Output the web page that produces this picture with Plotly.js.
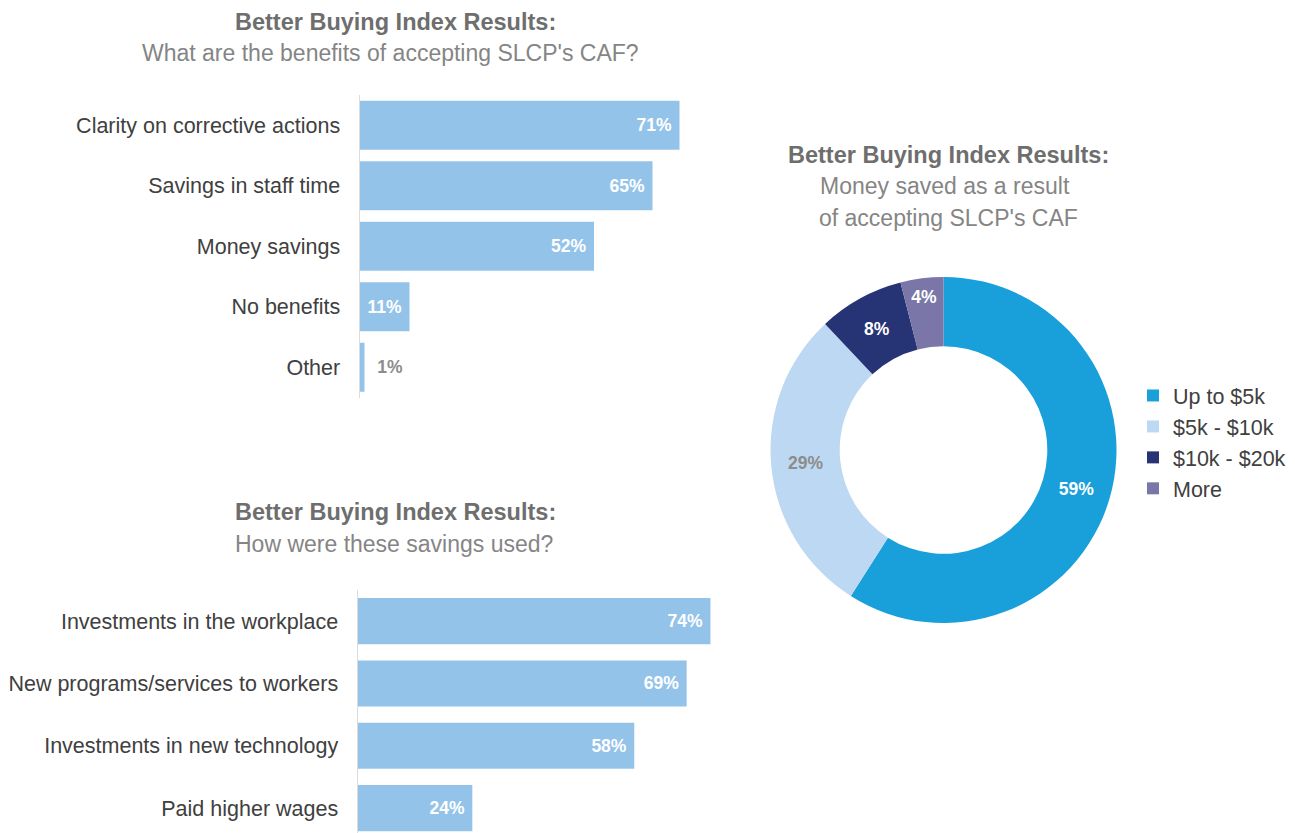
<!DOCTYPE html>
<html>
<head>
<meta charset="utf-8">
<script src="https://cdn.plot.ly/plotly-3.0.1.min.js"></script>
<style>html,body{margin:0;padding:0;background:#fff;}#chart{width:1295px;height:833px;}</style>
</head>
<body>
<div id="chart"></div>
<script>
// ---- data ----
var benefitCats = ['Clarity on corrective actions', 'Savings in staff time', 'Money savings', 'No benefits', 'Other'];
var benefitVals = [71, 65, 52, 11, 1];

var usageCats = ['Investments in the workplace', 'New programs/services to workers', 'Investments in new technology', 'Paid higher wages'];
var usageVals = [74, 69, 58, 24];

var savedLabels = ['Up to $5k', '$5k - $10k', '$10k - $20k', 'More'];
var savedVals = [59, 29, 8, 4];

// ---- helpers ----
var W = 1295, H = 833;
function fx(px) { return px / W; }
function fy(px) { return 1 - px / H; }
var FONT = '"Liberation Sans", Arial, Helvetica, sans-serif';
var barColor = '#94c3ea';
var NB = '\u00a0';

var traces = [
  {
    type: 'bar', orientation: 'h',
    x: benefitVals, y: benefitCats,
    xaxis: 'x', yaxis: 'y',
    width: 0.81,
    marker: { color: barColor },
    texttemplate: benefitVals.map(function (v) { return v < 5 ? NB + NB + '%{x}%' : '%{x}%' + NB; }),
    textposition: benefitVals.map(function (v) { return v < 5 ? 'outside' : 'inside'; }),
    insidetextanchor: 'end',
    constraintext: 'none',
    textfont: { family: FONT, size: 17.5, weight: 'bold',
      color: benefitVals.map(function (v) { return v < 5 ? '#8c8c8c' : '#ffffff'; }) },
    cliponaxis: false,
    hoverinfo: 'skip', showlegend: false
  },
  {
    type: 'bar', orientation: 'h',
    x: usageVals, y: usageCats,
    xaxis: 'x2', yaxis: 'y2',
    width: 0.74,
    marker: { color: barColor },
    texttemplate: '%{x}%' + NB,
    textposition: 'inside',
    insidetextanchor: 'end',
    constraintext: 'none',
    textfont: { family: FONT, size: 17.5, weight: 'bold', color: '#ffffff' },
    hoverinfo: 'skip', showlegend: false
  },
  {
    type: 'pie',
    labels: savedLabels, values: savedVals,
    sort: false, direction: 'clockwise', rotation: 0,
    hole: 0.6,
    domain: { x: [fx(770.5), fx(1116.5)], y: [fy(623), fy(277)] },
    marker: { colors: ['#19a0db', '#bdd8f2', '#263374', '#7a77a8'], line: { width: 0 } },
    texttemplate: '%{value}%',
    textposition: 'inside',
    insidetextorientation: 'horizontal',
    textfont: { family: FONT, size: 17.5, weight: 'bold',
      color: ['#ffffff', '#8c8c8c', '#ffffff', '#ffffff'] },
    hoverinfo: 'skip',
    showlegend: true
  }
];

var titleFont = { family: FONT, size: 23.5, color: '#6e6e6e', weight: 'bold' };
var subFont = { family: FONT, size: 23, color: '#858585' };

function ann(text, cx, cy, font) {
  return { text: text, x: fx(cx), y: fy(cy), xref: 'paper', yref: 'paper',
    xanchor: 'center', yanchor: 'middle', showarrow: false, font: font };
}

var layout = {
  width: W, height: H,
  margin: { l: 0, r: 0, t: 0, b: 0, pad: 0 },
  paper_bgcolor: '#ffffff', plot_bgcolor: 'rgba(0,0,0,0)',
  font: { family: FONT, color: '#404040' },
  uniformtext: { mode: 'show', minsize: 17.5 },
  xaxis: { domain: [fx(360), fx(720)], range: [0, 80], anchor: 'y',
    showgrid: false, zeroline: false, showticklabels: false, ticks: '', showline: false, fixedrange: true },
  yaxis: { domain: [fy(397.5), fy(95)], anchor: 'x', type: 'category', autorange: 'reversed',
    showgrid: false, zeroline: false, ticks: '', showline: true, linecolor: '#dcdcdc', linewidth: 1.5,
    ticklabelstandoff: 14, tickfont: { family: FONT, size: 21.5, color: '#404040' }, fixedrange: true },
  xaxis2: { domain: [fx(358), fx(720)], range: [0, 76], anchor: 'y2',
    showgrid: false, zeroline: false, showticklabels: false, ticks: '', showline: false, fixedrange: true },
  yaxis2: { domain: [0, fy(590)], anchor: 'x2', type: 'category', range: [3.4, -0.5],
    showgrid: false, zeroline: false, ticks: '', showline: true, linecolor: '#dcdcdc', linewidth: 1.5,
    ticklabelstandoff: 14, tickfont: { family: FONT, size: 21.5, color: '#404040' }, fixedrange: true },
  legend: { x: fx(1133), y: fy(375), xanchor: 'left', yanchor: 'top',
    font: { family: FONT, size: 21.5, color: '#404040' }, bgcolor: 'rgba(0,0,0,0)', borderwidth: 0 },
  annotations: [
    ann('Better Buying Index Results:', 396, 22, titleFont),
    ann('What are the benefits of accepting SLCP\'s CAF?', 390, 53, subFont),
    ann('Better Buying Index Results:', 396, 512, titleFont),
    ann('How were these savings used?', 394, 544, subFont),
    ann('Better Buying Index Results:', 948, 155, titleFont),
    ann('Money saved as a result', 945, 186, subFont),
    ann('of accepting SLCP\'s CAF', 948, 218, subFont)
  ]
};

Plotly.newPlot('chart', traces, layout, { displayModeBar: false, staticPlot: true });
</script>
</body>
</html>
